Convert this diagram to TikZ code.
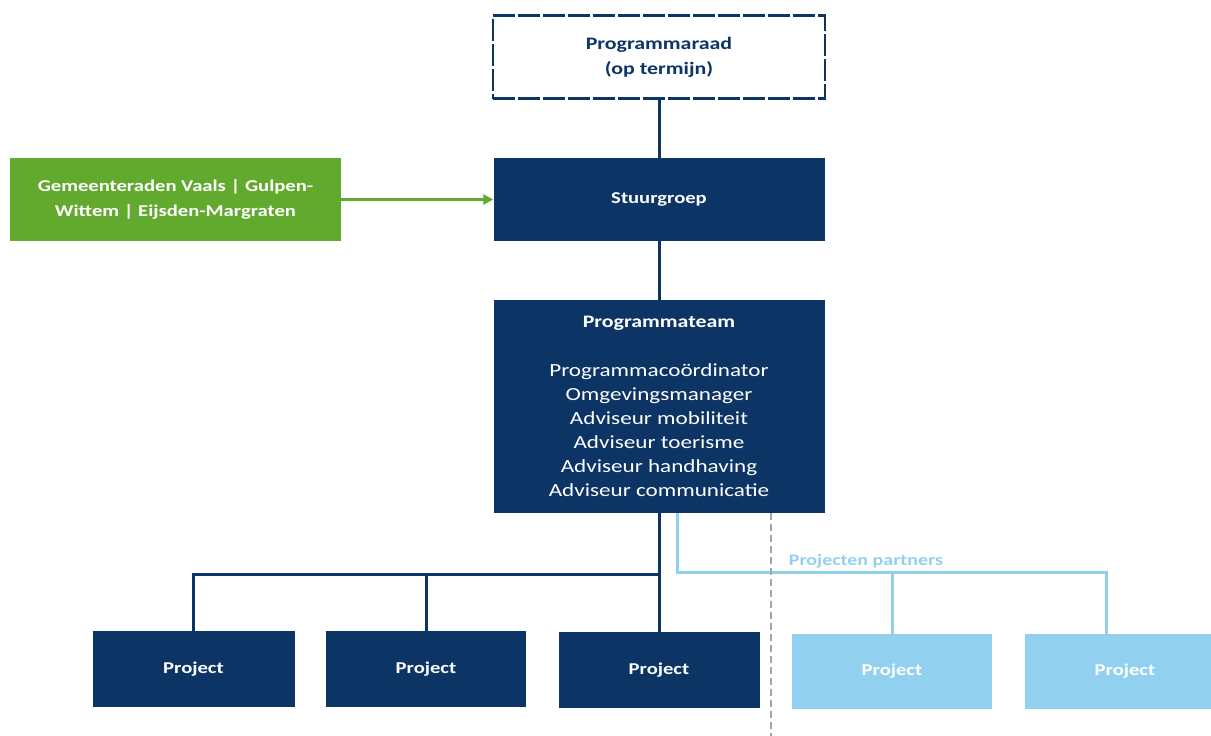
\documentclass[tikz,border=0pt]{standalone}
\usepackage{fontspec}
\setmainfont{Carlito}[FakeStretch=1.25]
\usetikzlibrary{arrows.meta}
\definecolor{navy}{RGB}{12,53,102}
\definecolor{grn}{RGB}{98,170,46}
\definecolor{lblue}{RGB}{146,208,240}
\definecolor{gline}{RGB}{165,165,165}
\tikzset{
  darkbox/.style={rectangle, fill=navy, text=white, inner sep=0pt, align=center,
    font=\fontsize{16.5}{20}\selectfont\bfseries},
  lightbox/.style={rectangle, fill=lblue, text=white, inner sep=0pt, align=center,
    font=\fontsize{16.5}{20}\selectfont\bfseries},
  greenbox/.style={rectangle, fill=grn, text=white, inner sep=0pt, align=center,
    font=\fontsize{16.5}{25}\selectfont\bfseries},
  raadbox/.style={rectangle, draw=navy, line width=2.5pt, dash pattern=on 22pt off 3pt,
    fill=white, text=navy, inner sep=0pt, align=center,
    font=\fontsize{17.5}{25}\selectfont\bfseries},
  navyline/.style={draw=navy, line width=3pt},
  lightline/.style={draw=lblue, line width=3pt},
  greenline/.style={draw=grn, line width=3pt},
  divider/.style={draw=gline, line width=1.5pt, dash pattern=on 7pt off 4pt},
}
\begin{document}
\begin{tikzpicture}[x=1pt, y=-1pt]
\clip (0,0) rectangle (1211,736);
\fill[white] (0,0) rectangle (1211,736);

\node[raadbox, minimum width=332pt, minimum height=83pt] (raad) at (659,57) {Programmaraad\\(op termijn)};
\node[darkbox, minimum width=331pt, minimum height=83pt] (stuur) at (659,199.5) {Stuurgroep};
\node[greenbox, minimum width=331pt, minimum height=83pt] (gem) at (175.5,199.5) {Gemeenteraden Vaals | Gulpen-\\Wittem | Eijsden-Margraten};
\node[darkbox, minimum width=331pt, minimum height=213pt, font=\fontsize{18.5}{24}\selectfont\mdseries] (team) at (659,406.5)
  {{\fontsize{17.5}{24}\selectfont\bfseries Programmateam}\\[25pt]
   Programmacoördinator\\
   Omgevingsmanager\\
   Adviseur mobiliteit\\
   Adviseur toerisme\\
   Adviseur handhaving\\
   Adviseur communicatie};

\node[darkbox, minimum width=202pt, minimum height=76pt] (p1) at (193.5,669) {Project};
\node[darkbox, minimum width=200pt, minimum height=76pt] (p2) at (426,669) {Project};
\node[darkbox, minimum width=201pt, minimum height=76pt] (p3) at (659,670) {Project};
\node[lightbox, minimum width=200pt, minimum height=75pt] (lp1) at (892,671.5) {Project};
\node[lightbox, minimum width=200pt, minimum height=75pt] (lp2) at (1125,671.5) {Project};

% connectors
\draw[navyline] (raad.south) -- (stuur.north);
\draw[navyline] (stuur.south) -- (team.north);
\draw[navyline] (team.south) -- (p3.north);
\coordinate (j) at (659,574);
\draw[navyline] (p1.north) |- (j);
\draw[navyline] (p2.north) -- (p2.north |- j);
\draw[greenline, -{Triangle[length=10pt,width=10pt]}] (gem.east) -- (stuur.west);

\coordinate (lt) at (677,513);
\coordinate (lj) at (677,572);
\coordinate (lv2) at (1106,572);
\draw[lightline] (lt) -- (lj) -- (lv2) -- (lv2 |- lp2.north);
\draw[lightline] (lp1.north) -- (lp1.north |- lj);

\node[text=lblue, font=\fontsize{16}{20}\selectfont\bfseries, inner sep=0pt] (partners) at (866,561) {Projecten partners};

\coordinate (g1) at (771,513);
\coordinate (g2) at (771,736);
\draw[divider] (g1) -- (g2);
\end{tikzpicture}
\end{document}
